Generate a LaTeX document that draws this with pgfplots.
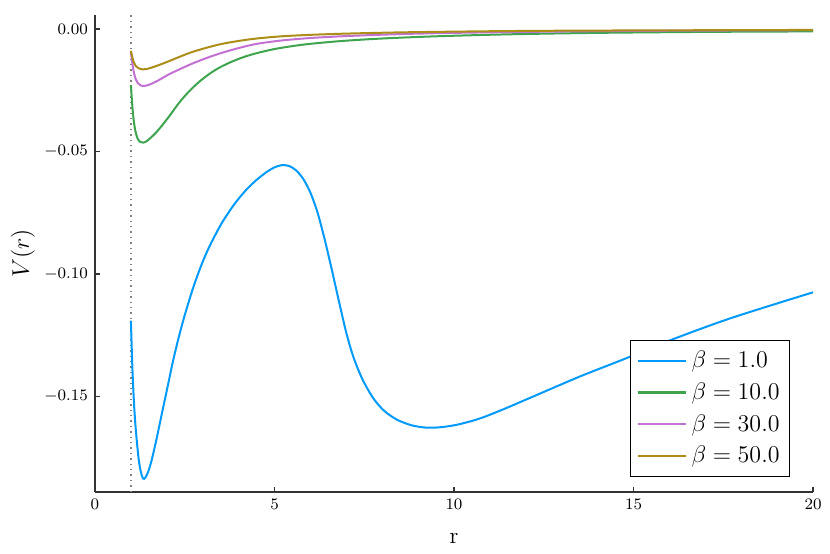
\documentclass[border=0pt]{standalone}
\usepackage{pgfplots}
\pgfplotsset{compat=1.18}
\definecolor{jblue}{HTML}{009AFA}
\definecolor{jgreen}{HTML}{3EA44E}
\definecolor{jpurple}{HTML}{C371D2}
\definecolor{jgold}{HTML}{AC8D18}

\begin{document}
\begin{tikzpicture}
\begin{axis}[
  scale only axis,
  width=359pt, height=238.5pt,
  xmin=0, xmax=20, ymin=-0.189, ymax=0.0057,
  axis lines=left,
  axis line style={-, line width=0.8pt, black!80},
  tick align=inside,
  major tick length=2.5pt,
  tick style={line width=0.6pt, black!80},
  xtick={0,5,10,15,20},
  ytick={0,-0.05,-0.1,-0.15},
  yticklabel style={/pgf/number format/.cd, fixed, fixed zerofill, precision=2},
  ticklabel style={font=\fontsize{8}{9}\selectfont},
  xlabel={r}, ylabel={$V(r)$},
  label style={font=\fontsize{11.5}{13}\selectfont},
  xlabel style={yshift=-5pt},
  ylabel style={yshift=-2pt},
  legend style={at={(0.968,0.031)}, anchor=south east, draw=black, line width=0.5pt,
    font=\fontsize{12}{12}\selectfont, row sep=2pt, inner xsep=3pt, inner ysep=3.5pt},
  legend cell align=left,
  legend image code/.code={\draw[#1, line width=1.2pt] (0cm,0cm) -- (0.85cm,0cm);},
]
\addplot[gray, dotted, line width=0.7pt, forget plot] coordinates {(1,-0.189) (1,0.0057)};
\addplot[jblue, line width=1pt, smooth] coordinates {
(1.00,-0.1191) (1.04,-0.1378) (1.08,-0.1510) (1.12,-0.1605) (1.17,-0.1690)
(1.22,-0.1760) (1.28,-0.1810) (1.34,-0.1835) (1.40,-0.1832) (1.48,-0.1808)
(1.58,-0.1759) (1.72,-0.1670) (1.86,-0.1572) (2.02,-0.1462) (2.18,-0.1351)
(2.35,-0.1249) (2.50,-0.1168) (2.70,-0.1072) (2.85,-0.1008) (3.02,-0.0943)
(3.20,-0.0884) (3.40,-0.0827) (3.57,-0.0783) (3.80,-0.0732) (4.00,-0.0693)
(4.23,-0.0654) (4.50,-0.0616) (4.78,-0.0584) (5.00,-0.0565) (5.20,-0.0556)
(5.40,-0.0559) (5.60,-0.0577) (5.80,-0.0612) (6.00,-0.0668) (6.20,-0.0750)
(6.40,-0.0860) (6.60,-0.0985) (6.80,-0.1115) (7.00,-0.1240) (7.20,-0.1340)
(7.45,-0.1430) (7.75,-0.1507) (8.05,-0.1558) (8.40,-0.1594) (8.80,-0.1617)
(9.20,-0.1627) (9.60,-0.1626) (10.1,-0.1615) (10.7,-0.1591) (11.3,-0.1557)
(12.1,-0.1507) (13.5,-0.1419) (14.8,-0.1344) (16.0,-0.1272) (17.7,-0.1181)
(20.0,-0.1075)
};
\addlegendentry{$\beta = 1.0$}
\addplot[jgreen, line width=1pt, smooth] coordinates {
(1.00,-0.0229) (1.04,-0.0315) (1.08,-0.0375) (1.13,-0.0420) (1.19,-0.0448)
(1.26,-0.0461) (1.34,-0.0464) (1.44,-0.0458) (1.56,-0.0443) (1.72,-0.0420)
(1.90,-0.0388) (2.10,-0.0350) (2.35,-0.0300) (2.60,-0.0258) (2.90,-0.0216)
(3.20,-0.0182) (3.50,-0.0155) (3.90,-0.0128) (4.35,-0.0105) (5.00,-0.0082)
(5.8,-0.0064) (6.8,-0.0050) (8.0,-0.0039) (9.5,-0.0030) (11.5,-0.0022)
(14,-0.0016) (17,-0.0012) (20,-0.0010)
};
\addlegendentry{$\beta = 10.0$}
\addplot[jpurple, line width=1pt, smooth] coordinates {
(1.00,-0.0093) (1.04,-0.0140) (1.08,-0.0175) (1.13,-0.0203) (1.20,-0.0222)
(1.28,-0.0231) (1.36,-0.0233) (1.46,-0.0230) (1.60,-0.0222) (1.80,-0.0207)
(2.05,-0.0186) (2.35,-0.0165) (2.70,-0.0142) (3.10,-0.0119) (3.50,-0.0099)
(4.00,-0.0078) (4.50,-0.0061) (5.2,-0.0047) (6.0,-0.0037) (7.0,-0.0029)
(8.5,-0.0021) (10,-0.0016) (12,-0.0012) (15,-0.0008) (20,-0.0005)
};
\addlegendentry{$\beta = 30.0$}
\addplot[jgold, line width=1pt, smooth] coordinates {
(1.00,-0.0089) (1.04,-0.0115) (1.08,-0.0135) (1.14,-0.0152) (1.22,-0.0161)
(1.32,-0.0165) (1.42,-0.0164) (1.55,-0.0159) (1.75,-0.0149) (2.00,-0.0135)
(2.30,-0.0117) (2.65,-0.0097) (3.05,-0.0079) (3.50,-0.0062) (4.00,-0.0049)
(4.50,-0.0039) (5.2,-0.0030) (6.0,-0.0024) (7.0,-0.0019) (8.5,-0.0014)
(10,-0.0011) (12,-0.0008) (15,-0.0006) (20,-0.0004)
};
\addlegendentry{$\beta = 50.0$}
\end{axis}
\pgfresetboundingbox
\path ([xshift=-47.5pt,yshift=-31pt]current axis.south west) rectangle ([xshift=8.5pt,yshift=7.5pt]current axis.north east);
\end{tikzpicture}
\end{document}
